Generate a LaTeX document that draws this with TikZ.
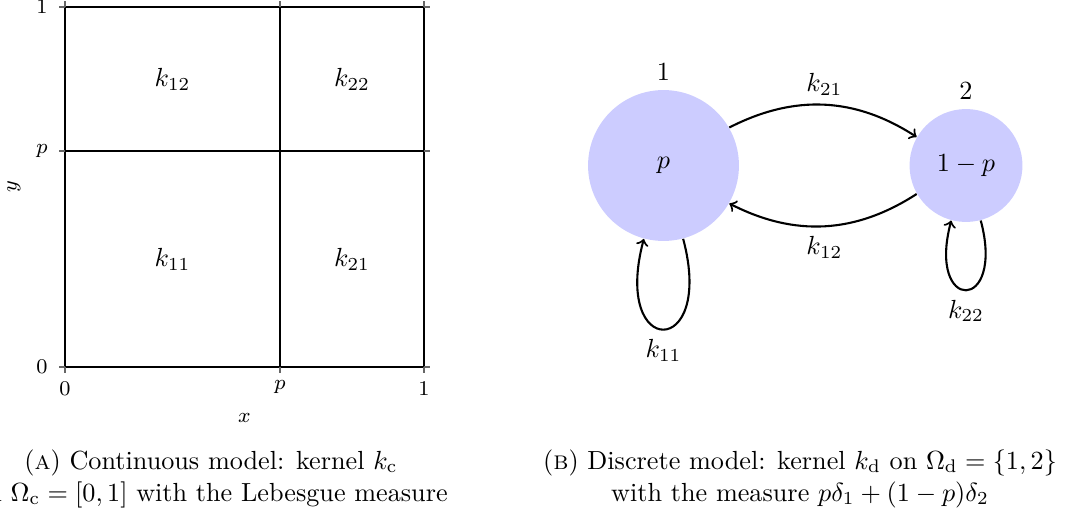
\documentclass[tikz,border=0pt]{standalone}
\usepackage{amsmath}
\begin{document}
\begin{tikzpicture}[x=0.3817pt,y=0.3817pt]
\tikzset{
  frame/.style={line width=0.4pt, black},
  tickmark/.style={line width=0.4pt, black!60},
  divline/.style={line width=1pt, black},
  ticklab/.style={font=\footnotesize, inner sep=0pt},
  axlab/.style={font=\footnotesize, inner sep=0pt},
  cell/.style={inner sep=0pt},
  state/.style={circle, fill=blue!20, inner sep=0pt, draw=none},
  conn/.style={->, thick},
  captext/.style={anchor=base, inner sep=0pt}
}
\useasboundingbox (0,0) rectangle (1073,-516);
\clip (0,0) rectangle (1073,-516);

% ---------- left panel ----------
\draw[frame] (65,-367) rectangle (424,-7);
\foreach \xx in {65,280,424}{
  \draw[tickmark] (\xx,-367) -- (\xx,-373);
  \draw[tickmark] (\xx,-7) -- (\xx,-1);
}
\foreach \yy in {7,151,367}{
  \draw[tickmark] (65,-\yy) -- (59,-\yy);
  \draw[tickmark] (424,-\yy) -- (430,-\yy);
}
\draw[divline] (280,-367) -- (280,-7);
\draw[divline] (65,-151) -- (424,-151);

\node[ticklab, anchor=east] (ty1) at (48,-7) {$1$};
\node[ticklab, anchor=east] (typ) at (48,-151) {$p$};
\node[ticklab, anchor=east] (ty0) at (48,-367) {$0$};
\node[ticklab, anchor=north] (tx0) at (65,-381) {$0$};
\node[ticklab, anchor=north] (txp) at (280,-380) {$p$};
\node[ticklab, anchor=north] (tx1) at (424,-381) {$1$};
\node[axlab] (xlab) at (244.5,-418) {$x$};
\node[axlab, rotate=90] (ylab) at (14,-187) {$y$};

\node[cell] (c12) at (172.5,-79) {$k_{12}$};
\node[cell] (c22) at (352,-79) {$k_{22}$};
\node[cell] (c11) at (172.5,-259) {$k_{11}$};
\node[cell] (c21) at (352,-259) {$k_{21}$};

% ---------- right panel ----------
\node[state, minimum size=57.6pt, label=above:{$1$}] (n1) at (663.5,-165.5) {$p$};
\node[state, minimum size=43.1pt, label=above:{$2$}] (n2) at (966,-165.5) {$1-p$};

\draw[conn] (n1) to[bend left=30] node[above] (l21) {$k_{21}$} (n2);
\draw[conn] (n2) to[bend left=30] node[below] (l12) {$k_{12}$} (n1);
\draw[conn] (n1.-75) .. controls +(-75:125) and +(-105:125) .. (n1.-105)
  node[midway, below] (l11) {$k_{11}$};
\draw[conn] (n2.-75) .. controls +(-75:96) and +(-105:96) .. (n2.-105)
  node[midway, below] (l22) {$k_{22}$};

% ---------- captions ----------
\node[captext] (capA1) at (211,-469) {(\textsc{a}) Continuous model: kernel $k_{\mathrm{c}}$};
\node[captext] (capA2) at (211,-501) {on $\Omega_{\mathrm{c}}=[0,1]$ with the Lebesgue measure};
\node[captext] (capB1) at (800,-469) {(\textsc{b}) Discrete model: kernel $k_{\mathrm{d}}$ on $\Omega_{\mathrm{d}}=\{1,2\}$};
\node[captext] (capB2) at (800,-501) {with the measure $p\delta_1+(1-p)\delta_2$};
\end{tikzpicture}
\end{document}
